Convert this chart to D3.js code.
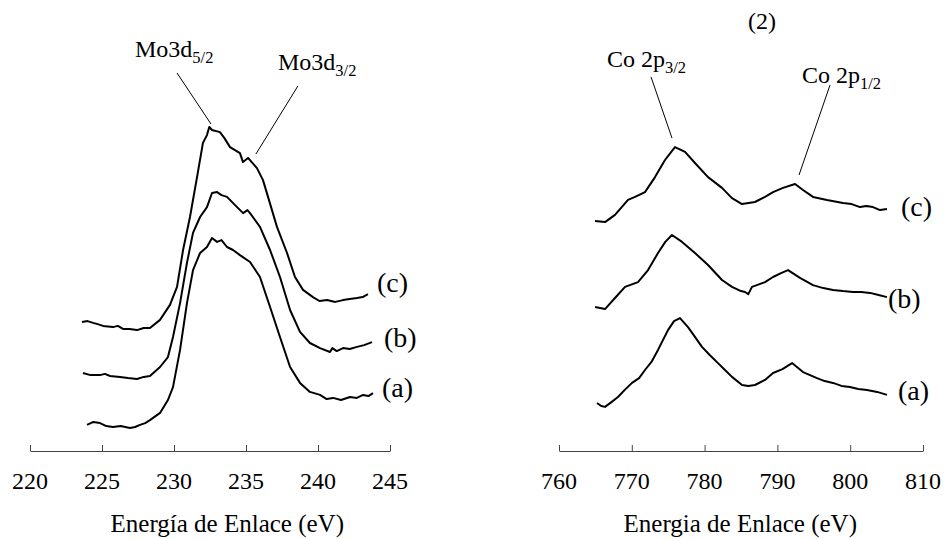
<!DOCTYPE html>
<html>
<head>
<meta charset="utf-8">
<script src="https://cdn.jsdelivr.net/npm/d3@7"></script>
<style>
  body { margin: 0; background: #fff; }
</style>
</head>
<body>
<div id="chart"></div>
<script>
// Mo 3d spectra: [binding energy (eV), intensity (a.u.)]
const moA = [[223.96,8.7],[224.4,9.7],[224.86,9.3],[225.3,8.3],[225.76,8.0],[226.3,8.3],[226.94,7.7],[227.3,8.0],[227.64,8.7],[228.0,9.3],[228.33,10.3],[229.03,12.7],[229.58,17.0],[229.93,21.3],[230.42,33.7],[230.90,49.3],[231.32,60.3],[231.81,66.0],[232.29,68.0],[232.64,71.0],[232.99,69.7],[233.3,70.3],[233.68,68.0],[234.1,67.0],[234.58,65.3],[235.28,63.0],[235.97,58.0],[236.67,48.0],[237.36,38.0],[238.06,28.0],[238.75,22.7],[239.44,19.7],[240.14,18.7],[240.6,17.3],[241.04,17.7],[241.6,17.0],[242.22,18.0],[242.7,17.7],[243.13,18.7],[243.5,18.3],[243.82,19.3]];
const moB = [[223.68,26.0],[224.2,25.3],[224.86,25.3],[225.2,25.7],[225.56,25.0],[226.25,24.7],[226.8,24.3],[227.43,24.0],[227.9,24.7],[228.33,25.0],[229.03,28.0],[229.58,31.3],[229.93,38.0],[230.42,49.3],[230.90,62.7],[231.32,72.7],[231.81,78.0],[232.29,81.3],[232.64,86.0],[232.99,86.3],[233.3,85.3],[233.68,84.7],[234.38,81.3],[234.8,79.3],[235.1,80.3],[235.28,79.3],[235.97,74.7],[236.67,67.0],[237.36,58.0],[238.06,47.0],[238.75,39.7],[239.44,36.0],[240.14,34.3],[240.83,33.0],[241.0,34.3],[241.3,33.3],[241.74,34.3],[242.2,34.0],[242.71,34.7],[243.2,35.3],[243.75,36.3]];
const moC = [[223.61,43.0],[224.0,43.3],[224.38,42.7],[224.7,42.3],[225.07,41.7],[225.76,41.3],[226.1,41.7],[226.46,40.7],[226.9,40.7],[227.43,40.3],[227.9,41.0],[228.33,41.0],[229.03,43.7],[229.72,48.7],[230.21,54.7],[230.63,67.0],[231.11,78.0],[231.60,91.3],[232.01,102.7],[232.29,105.3],[232.45,108.0],[232.64,107.0],[233.19,106.3],[233.5,104.3],[233.89,101.3],[234.58,99.3],[234.79,96.3],[235.14,97.7],[235.76,94.3],[236.18,90.3],[236.53,84.7],[237.15,74.7],[237.85,66.0],[238.40,58.0],[238.96,53.7],[239.65,51.3],[240.1,50.0],[240.63,50.3],[241.2,49.7],[241.74,50.3],[242.2,50.7],[242.71,51.0],[243.1,51.3],[243.47,52.3]];

// Co 2p spectra
const coA = [[765.22,16.0],[765.8,15.0],[766.32,14.7],[767.2,16.3],[768.10,18.0],[769.0,20.3],[770.03,22.7],[771.0,24.3],[771.81,27.0],[772.7,29.7],[773.60,33.7],[774.97,40.3],[775.8,43.3],[776.62,44.3],[777.72,41.3],[778.6,38.3],[779.64,34.7],[780.7,32.0],[781.84,29.3],[782.8,27.0],[783.76,24.7],[785.14,22.0],[786.0,21.7],[786.92,22.0],[788.30,23.7],[789.40,26.0],[790.7,27.3],[792.01,29.3],[793.52,26.3],[795.44,24.3],[796.5,23.3],[797.64,22.7],[798.8,21.7],[799.97,21.3],[801.1,20.7],[802.31,20.3],[803.7,19.7],[805.05,18.7]];
const coB = [[764.95,48.0],[766.32,47.3],[767.69,51.0],[769.07,54.7],[770.85,56.3],[772.23,60.3],[773.60,66.0],[774.6,69.7],[775.52,72.0],[776.90,69.7],[778.68,66.0],[780.47,62.0],[782.39,57.0],[783.76,54.7],[785.0,53.3],[785.55,53.0],[786.0,52.3],[786.51,54.7],[788.30,56.3],[789.40,58.0],[790.5,59.3],[791.46,60.3],[793.10,57.7],[794.89,55.3],[796.3,54.3],[797.64,53.7],[799.0,53.3],[800.38,53.0],[801.5,53.0],[802.72,52.7],[803.9,52.0],[805.05,51.3]];
const coC = [[764.95,76.7],[766.32,76.3],[767.69,78.7],[769.48,83.7],[770.44,84.7],[771.81,86.3],[773.19,91.3],[774.56,97.0],[775.93,101.3],[777.31,99.7],[778.68,96.0],[780.47,91.3],[782.39,87.7],[783.76,84.3],[785.14,82.3],[786.92,83.0],[788.30,84.7],[789.40,86.3],[790.77,87.7],[792.42,89.0],[793.52,87.0],[794.89,84.7],[796.81,83.7],[799.01,82.7],[800.2,82.3],[801.35,81.3],[802.2,81.7],[803.13,81.3],[804.1,80.3],[805.05,80.7]];

const seriesNames = ["(a)", "(b)", "(c)"];
const moTicks = [220, 225, 230, 235, 240, 245];
const coTicks = [760, 770, 780, 790, 800, 810];

// peak annotations: text anchor (eV, intensity), leader line from -> to
const moPeaks = [
    { main: "Mo3d", sub: "5/2", at: [227.29, 131.3], from: [230.21, 126.0], to: [232.57, 109.0] },
    { main: "Mo3d", sub: "3/2", at: [237.22, 127.0], from: [238.61, 121.7], to: [235.69, 99.0] }
];
const coPeaks = [
    { main: "Co 2p", sub: "3/2", at: [766.59, 128.0], from: [772.64, 124.7], to: [775.52, 104.3] },
    { main: "Co 2p", sub: "1/2", at: [793.38, 122.7], from: [797.23, 122.0], to: [792.97, 92.0] }
];

function drawChart() {
    d3.select("#chart").select("svg").remove();

    const width = 945, height = 539;
    const axisY = 451;
    const serif = "Liberation Serif";

    const svg = d3.select("#chart")
        .append("svg")
        .attr("width", width)
        .attr("height", height);

    // intensity is arbitrary, same scale for both panels
    const y = d3.scaleLinear().domain([0, 150]).range([axisY, 1]);

    // label offsets (px) from each curve end, order (a),(b),(c)
    const panels = [
        { domain: [220, 245], range: [30, 390], ticks: moTicks, series: [moA, moB, moC],
          peaks: moPeaks, title: "Energía de Enlace (eV)", titleAt: 233.7,
          labelDx: [9, 12, 9], labelDy: [-3, -2, -9] },
        { domain: [760, 810], range: [559, 923], ticks: coTicks, series: [coA, coB, coC],
          peaks: coPeaks, title: "Energia de Enlace (eV)", titleAt: 784.9,
          labelDx: [11, 1, 14], labelDy: [-2, 4, 0] }
    ];

    panels.forEach(p => {
        const x = d3.scaleLinear().domain(p.domain).range(p.range);

        // axis with ticks pointing up, labels drawn separately
        const axis = svg.append("g")
            .attr("transform", `translate(0,${axisY})`)
            .call(d3.axisBottom(x).tickValues(p.ticks).tickSizeInner(-6).tickSizeOuter(0)
                .tickFormat(""));
        axis.select(".domain").attr("stroke", "#444");
        axis.selectAll(".tick line").attr("stroke", "#444");

        svg.selectAll(null)
            .data(p.ticks)
            .enter()
            .append("text")
            .attr("x", d => x(d))
            .attr("y", 489)
            .attr("text-anchor", "middle")
            .attr("font-family", serif)
            .attr("font-size", 24)
            .text(d => d);

        svg.append("text")
            .attr("x", x(p.titleAt))
            .attr("y", 532)
            .attr("text-anchor", "middle")
            .attr("font-family", serif)
            .attr("font-size", 25)
            .text(p.title);

        const line = d3.line()
            .x(d => x(d[0]))
            .y(d => y(d[1]));

        p.series.forEach((s, i) => {
            svg.append("path")
                .datum(s)
                .attr("fill", "none")
                .attr("stroke", "#000")
                .attr("stroke-width", 2)
                .attr("stroke-linejoin", "round")
                .attr("d", line);

            const last = s[s.length - 1];
            svg.append("text")
                .attr("x", x(last[0]) + p.labelDx[i])
                .attr("y", y(last[1]) + p.labelDy[i] + 7)
                .attr("font-family", serif)
                .attr("font-size", 28)
                .text(seriesNames[i]);
        });

        // peak labels with leader lines
        p.peaks.forEach(pk => {
            svg.append("line")
                .attr("x1", x(pk.from[0])).attr("y1", y(pk.from[1]))
                .attr("x2", x(pk.to[0])).attr("y2", y(pk.to[1]))
                .attr("stroke", "#000")
                .attr("stroke-width", 1);

            const t = svg.append("text")
                .attr("x", x(pk.at[0]))
                .attr("y", y(pk.at[1]))
                .attr("font-family", serif)
                .attr("font-size", 24);
            t.append("tspan").text(pk.main);
            t.append("tspan")
                .attr("dy", 6)
                .attr("font-size", 16.5)
                .text(pk.sub);
        });

        if (p.domain[0] === 760) {
            svg.append("text")
                .attr("x", x(787.9))
                .attr("y", 29)
                .attr("text-anchor", "middle")
                .attr("font-family", serif)
                .attr("font-size", 24)
                .text("(2)");
        }
    });
}

drawChart();
</script>
</body>
</html>
